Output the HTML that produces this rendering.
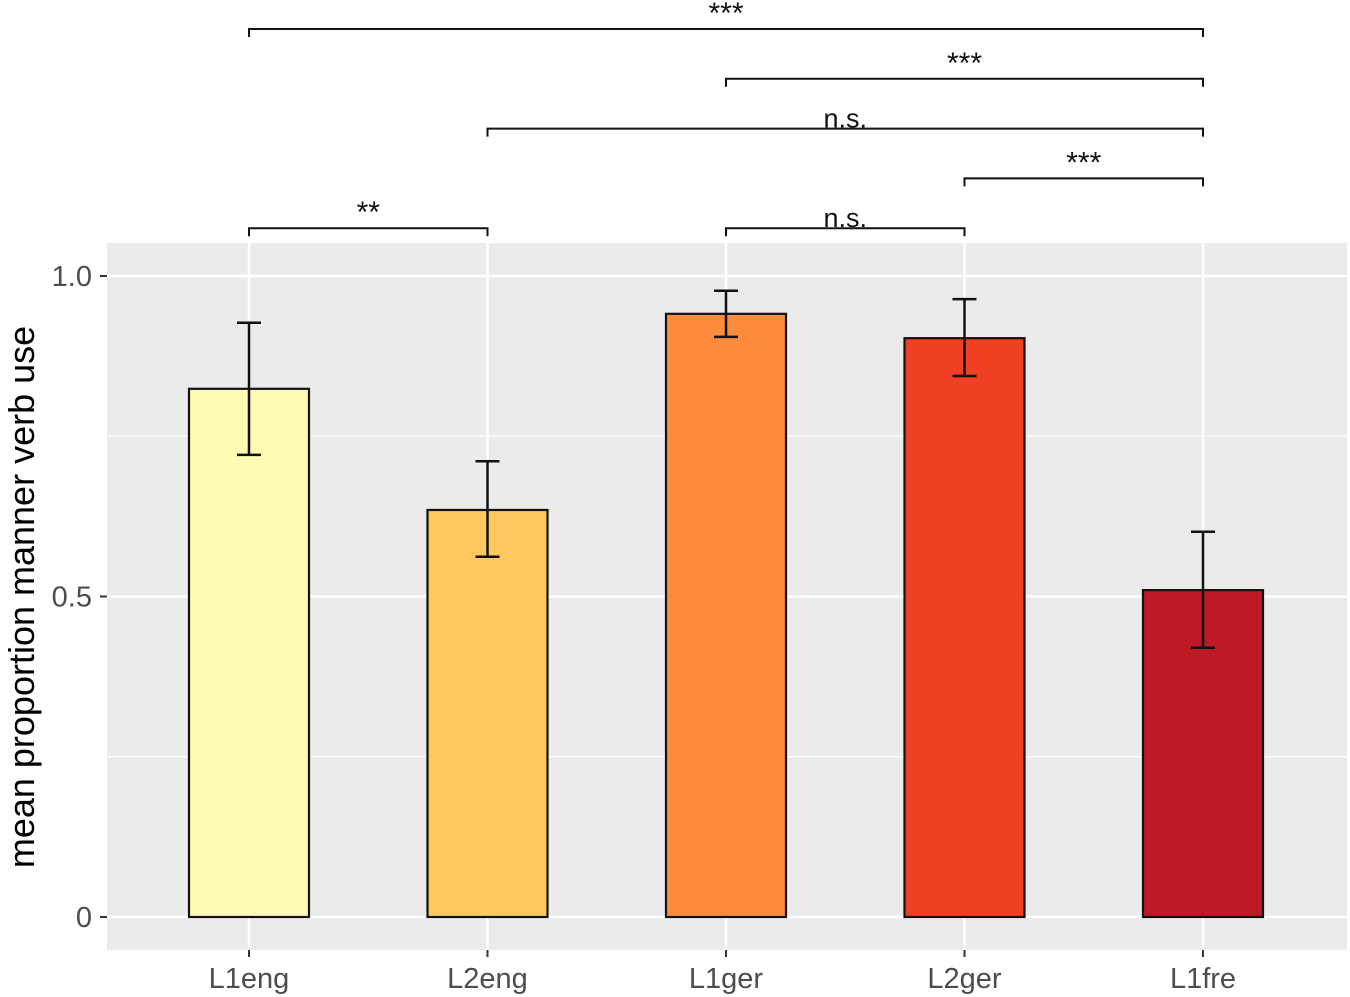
<!DOCTYPE html>
<html><head><meta charset="utf-8"><style>
html,body{margin:0;padding:0;background:#fff;}
svg{display:block;font-family:"Liberation Sans",Arial,sans-serif;}
</style></head><body>
<svg id="chart" width="1350" height="997" viewBox="0 0 1350 997">
<rect x="107" y="243" width="1240" height="707" fill="#ebebeb"/>
<g id="grid"></g><g id="bars"></g><g id="axes"></g><g id="brackets"></g>
<text transform="translate(34,597) rotate(-90)" text-anchor="middle" font-size="36" fill="#000">mean proportion manner verb use</text>
</svg>
<script>
const categories=["L1eng","L2eng","L1ger","L2ger","L1fre"];
const means=[0.824,0.635,0.941,0.903,0.510];
const errLow=[0.721,0.562,0.905,0.844,0.420];
const errHigh=[0.927,0.711,0.977,0.964,0.601];
const colors=["#fffab3","#fdc85e","#fc8c3b","#f03f23","#bd1a26"];
const yTicks=[0,0.5,1.0];
const yTickLabels=["0","0.5","1.0"];
const yMinor=[0.25,0.75];
const bracketFrom=[0,2,1,3,0,2];
const bracketTo=[4,4,4,4,1,3];
const bracketLabels=["***","***","n.s.","***","**","n.s."];
const bracketLevel=[0,1,2,3,4,4];

const NS="http://www.w3.org/2000/svg";
const y=v=>917-v*641;
const x=i=>249+i*238.5;
const bw=120;
function mk(tag,attrs,parent,txt){const e=document.createElementNS(NS,tag);for(const k in attrs)e.setAttribute(k,attrs[k]);if(txt!==undefined)e.textContent=txt;document.getElementById(parent).appendChild(e);return e;}
yMinor.forEach(v=>{const e=mk('line',{x1:107,x2:1347,y1:y(v),y2:y(v),stroke:'#fff','stroke-width':1.2},'grid');

});
yTicks.forEach((v,i)=>{const e=mk('line',{x1:107,x2:1347,y1:y(v),y2:y(v),stroke:'#fff','stroke-width':2.5},'grid');


const t=mk('line',{x1:100,x2:107,y1:y(v),y2:y(v),stroke:'#333','stroke-width':2},'axes');


const l=mk('text',{x:92,y:y(v)+10,'text-anchor':'end','font-size':29,fill:'#4d4d4d'},'axes',yTickLabels[i]);

});
categories.forEach((c,i)=>{const g=mk('line',{x1:x(i),x2:x(i),y1:243,y2:950,stroke:'#fff','stroke-width':2.5},'grid');


const b=mk('rect',{x:x(i)-bw/2,y:y(means[i]),width:bw,height:y(0)-y(means[i]),fill:colors[i],stroke:'#111','stroke-width':2.2},'bars');


const eb=mk('path',{d:`M${x(i)-12},${y(errHigh[i])}H${x(i)+12}M${x(i)},${y(errHigh[i])}V${y(errLow[i])}M${x(i)-12},${y(errLow[i])}H${x(i)+12}`,stroke:'#111','stroke-width':2.5,fill:'none'},'bars');


const t=mk('line',{x1:x(i),x2:x(i),y1:950,y2:957,stroke:'#333','stroke-width':2},'axes');


const l=mk('text',{x:x(i),y:988,'text-anchor':'middle','font-size':29,fill:'#4d4d4d'},'axes',c);

});
bracketFrom.forEach((f,k)=>{const by=29+bracketLevel[k]*49.8;const x1=x(f),x2=x(bracketTo[k]);
const p=mk('path',{d:`M${x1},${by+8}V${by}H${x2}V${by+8}`,stroke:'#111','stroke-width':2,fill:'none'},'brackets');


const isStar=bracketLabels[k].indexOf('*')>=0;
const t=mk('text',{x:(x1+x2)/2,y:isStar?by-6:by-1,'text-anchor':'middle','font-size':isStar?30:27,fill:'#111'},'brackets',bracketLabels[k]);

});
</script>
</body></html>
